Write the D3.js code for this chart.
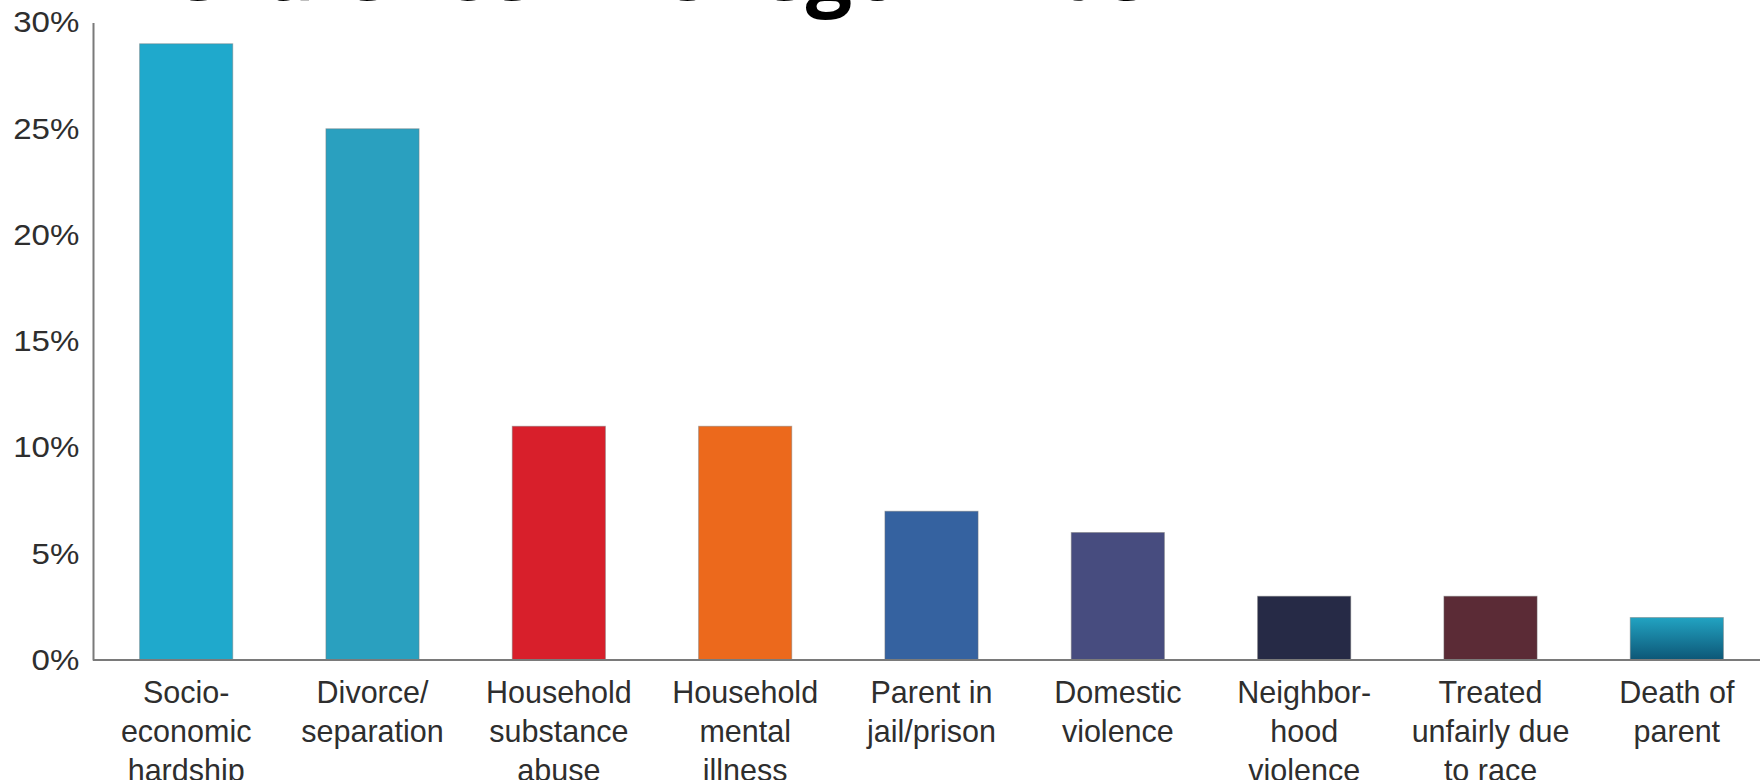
<!DOCTYPE html>
<html>
<head>
<meta charset="utf-8">
<script src="https://cdn.jsdelivr.net/npm/d3@7"></script>
<style>
  html, body { margin: 0; padding: 0; background: #ffffff; }
  svg { display: block; }
</style>
</head>
<body>
<svg id="chart" width="1760" height="780"></svg>
<script>
// Adverse childhood experiences: share of Oregon kids affected
const categories = [
  ["Socio-", "economic", "hardship"],
  ["Divorce/", "separation"],
  ["Household", "substance", "abuse"],
  ["Household", "mental", "illness"],
  ["Parent in", "jail/prison"],
  ["Domestic", "violence"],
  ["Neighbor-", "hood", "violence"],
  ["Treated", "unfairly due", "to race"],
  ["Death of", "parent"]
];
const values = [29, 25, 11, 11, 7, 6, 3, 3, 2];
const barColors = ["#1fa9cc", "#2aa0bf", "#d81f2b", "#ec691c", "#3562a0",
                   "#474c7f", "#262a46", "#5b2b36", "url(#deathGrad)"];
const yTicks = [0, 5, 10, 15, 20, 25, 30];
const titleText = "Prevalence in Oregon Kids";

const svg = d3.select("#chart");
const plotLeft = 93, plotBottom = 660, plotTop = 22.5, plotRight = 1770;

// gradient fill for the last bar
const defs = svg.append("defs");
const grad = defs.append("linearGradient").attr("id", "deathGrad")
  .attr("x1", 0).attr("y1", 0).attr("x2", 0).attr("y2", 1);
grad.append("stop").attr("offset", "0%").attr("stop-color", "#22a3c2");
grad.append("stop").attr("offset", "100%").attr("stop-color", "#0d5676");

const keys = categories.map((c, i) => "c" + i);
const x = d3.scaleBand().domain(keys).range([plotLeft, plotRight])
  .paddingInner(0.5).paddingOuter(0.25);
const y = d3.scaleLinear().domain([0, 30]).range([plotBottom, plotTop]);

// title (runs off the top edge of the canvas)
svg.append("text")
  .attr("x", 82).attr("y", 0)
  .attr("font-family", "'Open Sans', sans-serif")
  .attr("font-weight", 700)
  .attr("font-size", 82)
  .attr("fill", "#000")
  .text(titleText);

// bars
svg.append("g").selectAll("rect").data(values).join("rect")
  .attr("x", (d, i) => x(keys[i]))
  .attr("y", d => y(d))
  .attr("width", x.bandwidth())
  .attr("height", d => y(0) - y(d))
  .attr("fill", (d, i) => barColors[i])
  .attr("stroke", "rgba(120,120,120,0.45)")
  .attr("stroke-width", 1);

// y axis
const yAxis = d3.axisLeft(y).tickValues(yTicks).tickSize(0).tickPadding(12)
  .tickFormat(d => d + "%");
const ya = svg.append("g").attr("transform", `translate(${plotLeft},0)`).call(yAxis);
ya.select(".domain").attr("stroke", "#7a7a7a").attr("stroke-width", 2);
ya.selectAll("text")
  .attr("font-family", "'Liberation Sans', Arial, sans-serif")
  .attr("font-size", 29)
  .attr("fill", "#2e2e2e")
  .attr("transform", "scale(1.14,1)");

// x axis
const xAxis = d3.axisBottom(x).tickSize(0).tickFormat("");
const xa = svg.append("g").attr("transform", `translate(0,${plotBottom})`).call(xAxis);
xa.select(".domain").attr("stroke", "#7a7a7a").attr("stroke-width", 2)
  .attr("d", `M${plotLeft},0H${plotRight}`);

// multi-line category labels
xa.selectAll(".tick").each(function(k, i) {
  const t = d3.select(this).append("text")
    .attr("font-family", "'Liberation Sans', Arial, sans-serif")
    .attr("font-size", 30.5)
    .attr("fill", "#2e2e2e")
    .attr("text-anchor", "middle");
  categories[i].forEach((line, j) => {
    t.append("tspan").attr("x", 0).attr("y", 43 + j * 39).text(line);
  });
});
</script>
</body>
</html>
